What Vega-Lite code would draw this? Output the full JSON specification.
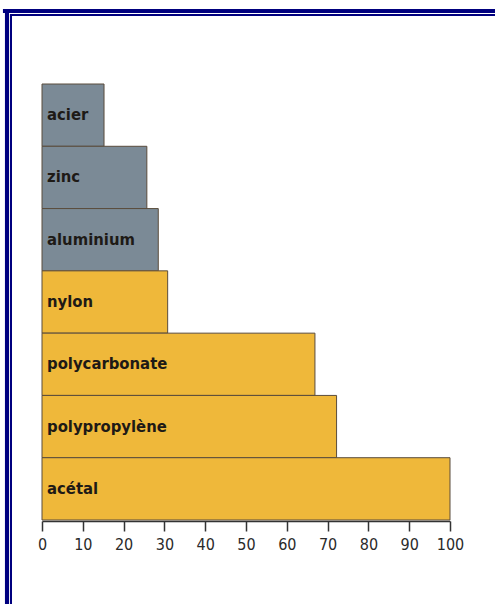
{
  "$schema": "https://vega.github.io/schema/vega-lite/v6.json",
  "width": 495,
  "height": 604,
  "padding": 0,
  "autosize": {"type": "none"},
  "background": "#ffffff",
  "config": {"view": {"stroke": null}},
  "data": {"values": [
    {"material": "acier", "value": 15.2, "group": "metal"},
    {"material": "zinc", "value": 25.7, "group": "metal"},
    {"material": "aluminium", "value": 28.5, "group": "metal"},
    {"material": "nylon", "value": 30.8, "group": "plastic"},
    {"material": "polycarbonate", "value": 66.9, "group": "plastic"},
    {"material": "polypropylène", "value": 72.2, "group": "plastic"},
    {"material": "acétal", "value": 100, "group": "plastic"}
  ]},
  "layer": [
    {
      "encoding": {
        "y": {"field": "material", "type": "nominal", "sort": null,
              "scale": {"range": [84, 520], "paddingInner": 0, "paddingOuter": 0},
              "axis": null}
      },
      "layer": [
        {
          "mark": {"type": "bar", "stroke": "#5a4c3c", "strokeWidth": 1},
          "encoding": {
            "x": {"field": "value", "type": "quantitative",
                  "scale": {"domain": [0, 100], "range": [42, 450], "nice": false, "zero": true},
                  "axis": {"values": [0,10,20,30,40,50,60,70,80,90,100], "title": null, "offset": -83,
                           "grid": false, "domainColor": "#333333", "domainWidth": 1.5,
                           "tickColor": "#333333", "tickSize": 10, "tickWidth": 1.5,
                           "labelOverlap": false, "labelFlush": false,
                           "labelFont": "DejaVu Sans Condensed, DejaVu Sans, sans-serif",
                           "labelFontSize": 16, "labelColor": "#2a2a2a", "labelPadding": 5}},
            "color": {"field": "group", "type": "nominal",
                      "scale": {"domain": ["metal", "plastic"], "range": ["#7b8a96", "#efb83a"]},
                      "legend": null}
          }
        },
        {
          "mark": {"type": "text", "align": "left", "baseline": "middle", "dx": 5,
                   "font": "DejaVu Sans Condensed, DejaVu Sans, sans-serif",
                   "fontSize": 16.5, "fontWeight": "bold", "color": "#1e1a16"},
          "encoding": {
            "x": {"datum": 0, "type": "quantitative",
                  "scale": {"domain": [0, 100], "range": [42, 450], "nice": false, "zero": true}},
            "text": {"field": "material"}
          }
        }
      ]
    },
    {
      "encoding": {},
      "layer": [
        {
          "mark": {"type": "rule", "color": "#00007f", "strokeWidth": 4},
          "encoding": {
            "x": {"datum": -8.58, "type": "quantitative",
                  "scale": {"domain": [0, 100], "range": [42, 450], "nice": false, "zero": true}},
            "y": {"datum": 0.9851, "type": "quantitative", "scale": {"domain": [0, 1], "nice": false}, "axis": null},
            "y2": {"datum": 0}
          }
        },
        {
          "mark": {"type": "rule", "color": "#00007f", "strokeWidth": 2},
          "encoding": {
            "x": {"datum": -7.6, "type": "quantitative",
                  "scale": {"domain": [0, 100], "range": [42, 450], "nice": false, "zero": true}},
            "y": {"datum": 0.9768, "type": "quantitative", "scale": {"domain": [0, 1], "nice": false}, "axis": null},
            "y2": {"datum": 0}
          }
        },
        {
          "mark": {"type": "rule", "color": "#00007f", "strokeWidth": 4},
          "encoding": {
            "x": {"datum": -9.56, "type": "quantitative",
                  "scale": {"domain": [0, 100], "range": [42, 450], "nice": false, "zero": true}},
            "x2": {"datum": 112.3},
            "y": {"datum": 0.9818, "type": "quantitative", "scale": {"domain": [0, 1], "nice": false}, "axis": null}
          }
        },
        {
          "mark": {"type": "rule", "color": "#00007f", "strokeWidth": 2},
          "encoding": {
            "x": {"datum": -7.84, "type": "quantitative",
                  "scale": {"domain": [0, 100], "range": [42, 450], "nice": false, "zero": true}},
            "x2": {"datum": 112.3},
            "y": {"datum": 0.9752, "type": "quantitative", "scale": {"domain": [0, 1], "nice": false}, "axis": null}
          }
        }
      ]
    }
  ],
  "resolve": {"scale": {"y": "independent"}, "axis": {"y": "independent"}}
}
